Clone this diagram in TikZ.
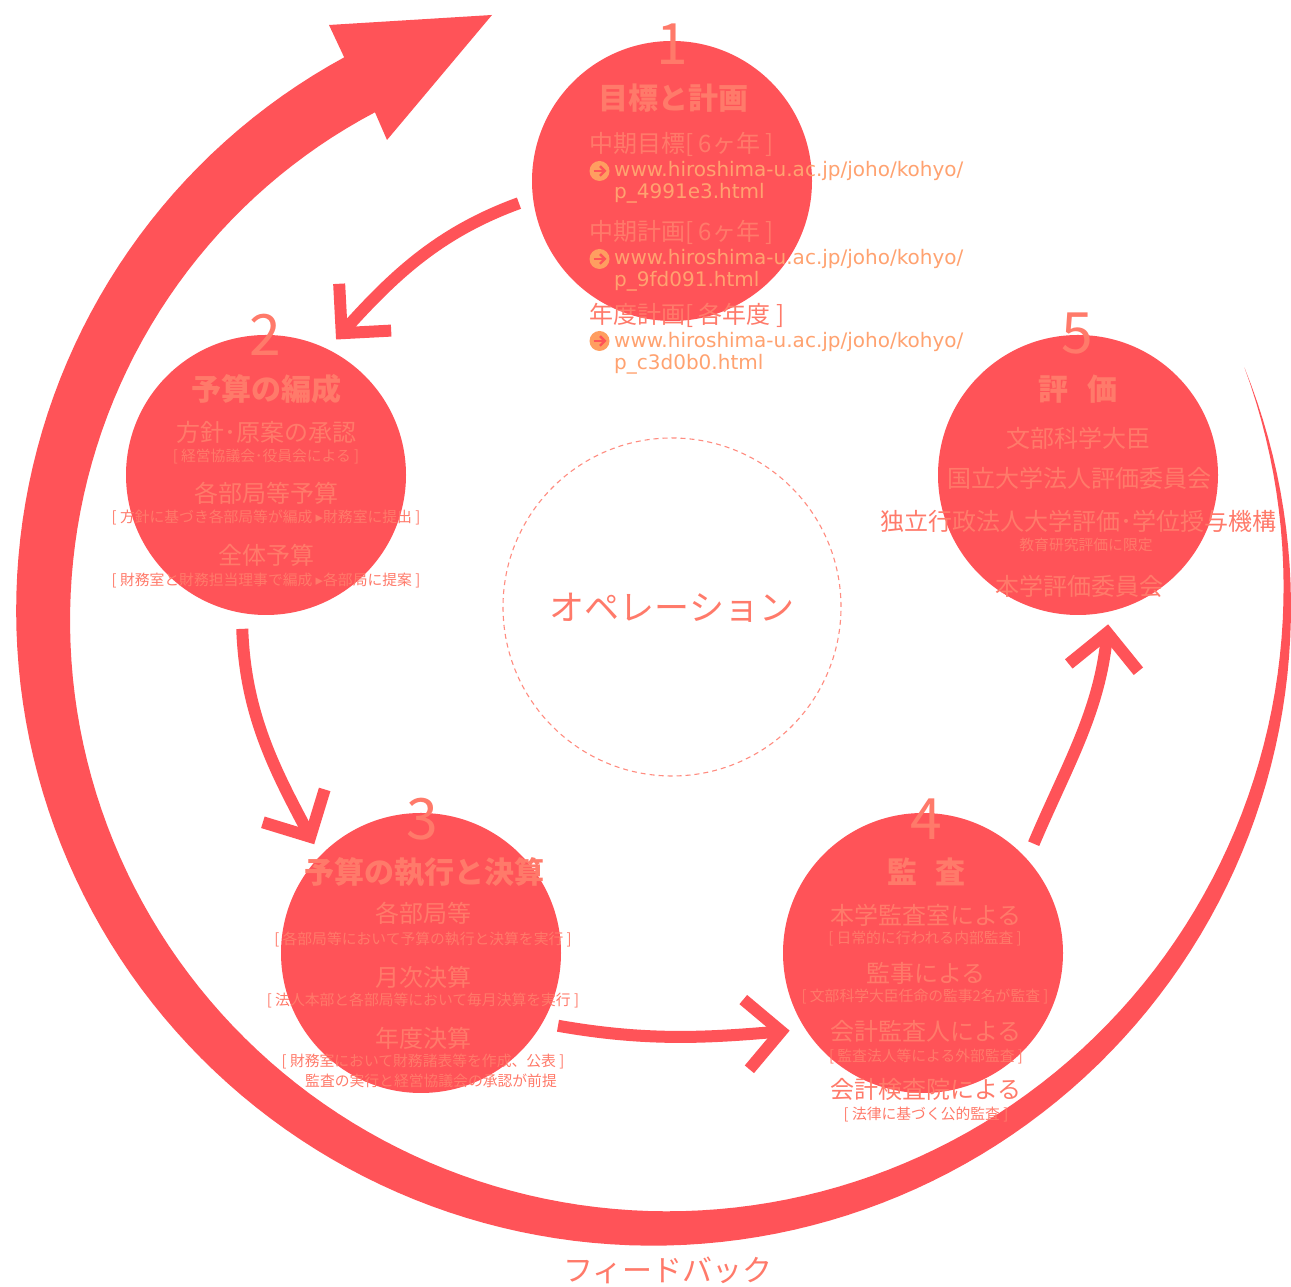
\documentclass[tikz,border=0pt]{standalone}
\usepackage{fontspec}
\setmainfont{Noto Sans CJK JP}
\newfontfamily\dvfont{DejaVu Sans}
\usetikzlibrary{arrows.meta}
\definecolor{cred}{RGB}{255,83,88}
\definecolor{salmon}{RGB}{255,122,106}
\definecolor{urlc}{RGB}{255,162,112}
\definecolor{iconc}{RGB}{255,158,96}
\definecolor{dashc}{RGB}{255,140,128}
\begin{document}
\begin{tikzpicture}[x=1pt,y=1pt,
  stage/.style={circle,fill=cred,minimum size=280pt,inner sep=0pt,outer sep=0pt},
  opcircle/.style={circle,draw=dashc,line width=1.1pt,dash pattern=on 5pt off 4pt,minimum size=338pt,inner sep=0pt,outer sep=0pt},
  num/.style={text=salmon,inner sep=0pt,font=\fontsize{57}{60}\selectfont},
  ttl/.style={text=salmon,inner sep=0pt,font=\bfseries\fontsize{30}{32}\selectfont},
  itm/.style={text=salmon,inner sep=0pt,font=\fontsize{24}{26}\selectfont},
  sml/.style={text=salmon,inner sep=0pt,font=\fontsize{14.8}{16}\selectfont},
  big/.style={text=salmon,inner sep=0pt,font=\fontsize{35}{37}\selectfont},
  fbtxt/.style={text=salmon,inner sep=0pt,font=\fontsize{30}{32}\selectfont},
  url/.style={text=urlc,inner sep=0pt,anchor=base west,font=\dvfont\fontsize{20}{22}\selectfont},
  icon/.style={circle,fill=iconc,minimum size=20pt,inner sep=0pt,
    path picture={
      \draw[cred,line width=2.4pt] ([xshift=-6pt]path picture bounding box.center) -- ([xshift=4pt]path picture bounding box.center);
      \draw[cred,line width=2.4pt,line join=miter] ([shift={(0.5pt,4.8pt)}]path picture bounding box.center) -- ([xshift=5.3pt]path picture bounding box.center) -- ([shift={(0.5pt,-4.8pt)}]path picture bounding box.center);}},
  flow/.style={draw=cred,line width=12pt,-{Straight Barb[length=35pt,width=70pt,sharp]}},
  declare function={uu(\t)=(\t+22)/262.75; ro(\t)=639-9*uu(\t)*uu(\t)*uu(\t)*uu(\t); ri(\t)=ro(\t)-63*(1.5*uu(\t)-0.5*uu(\t)*uu(\t));}
]
\useasboundingbox (0,0) rectangle (1291,1287);
\fill[white] (0,0) rectangle (1291,1287);

% feedback spiral arrow
\fill[cred] plot[domain=-22:240.75,samples=160,variable=\t] ({652+ro(\t)*cos(\t)},{680-ro(\t)*sin(\t)})
  -- (329,1262) -- (492,1272) -- (387,1147)
  -- plot[domain=240.75:-22,samples=160,variable=\t] ({652+ri(\t)*cos(\t)},{680-ri(\t)*sin(\t)}) -- cycle;

% stage circles
\node[stage] (c1) at (672,1106) {};
\node[stage] (c2) at (266,812) {};
\node[stage] (c3) at (421,334) {};
\node[stage] (c4) at (923,334) {};
\node[stage] (c5) at (1078,812) {};
\node[opcircle] (op) at (672,680) {};

% connectors
\draw[flow,shorten <=15pt,shorten >=13pt] (c1.187) to[out=200,in=48] (c2.64);
\draw[flow,shorten <=16pt,shorten >=13pt] (c2.260) to[out=272,in=118] (c3.136);
\draw[flow,shorten <=16pt,shorten >=16pt] (c3.-30) to[out=-10,in=185] (c4.213);
\draw[flow,shorten <=17pt,shorten >=13pt] (c4.42) to[out=67,in=264] (c5.-77);

% circle 1
\node[num] (n1) at (672,1243) {1};
\node[ttl] (t1) at (673,1189) {目標と計画};
\node[itm,anchor=west] (h1a) at (589,1143) {中期目標[ 6ヶ年 ]};
\node[icon] (i1) at (599.5,1116) {};
\node[url] (u1a) at (614,1110) {www.hiroshima-u.ac.jp/joho/kohyo/};
\node[url] (u1b) at (614,1088) {p\_4991e3.html};
\node[itm,anchor=west] (h1b) at (589,1055) {中期計画[ 6ヶ年 ]};
\node[icon] (i2) at (599.5,1028) {};
\node[url] (u2a) at (614,1022) {www.hiroshima-u.ac.jp/joho/kohyo/};
\node[url] (u2b) at (614,1000) {p\_9fd091.html};
\node[itm,anchor=west] (h1c) at (589,972) {年度計画[ 各年度 ]};
\node[icon] (i3) at (599.5,946) {};
\node[url] (u3a) at (614,939) {www.hiroshima-u.ac.jp/joho/kohyo/};
\node[url] (u3b) at (614,917) {p\_c3d0b0.html};

% circle 2
\node[num] (n2) at (265,952) {2};
\node[ttl] (t2) at (266,898) {予算の編成};
\node[itm] (a2a) at (266,855) {方針･原案の承認};
\node[sml] (b2a) at (266,830) {[ 経営協議会･役員会による ]};
\node[itm] (a2b) at (266,794) {各部局等予算};
\node[sml] (b2b) at (266,770) {[ 方針に基づき各部局等が編成 {\dvfont ▸}財務室に提出 ]};
\node[itm] (a2c) at (266,732) {全体予算};
\node[sml] (b2c) at (266,707) {[ 財務室と財務担当理事で編成 {\dvfont ▸}各部局に提案 ]};

% circle 3
\node[num] (n3) at (422,468) {3};
\node[ttl] (t3) at (424,415) {予算の執行と決算};
\node[itm] (a3a) at (423,374) {各部局等};
\node[sml] (b3a) at (423,348) {[ 各部局等において予算の執行と決算を実行 ]};
\node[itm] (a3b) at (423,310) {月次決算};
\node[sml] (b3b) at (423,287) {[ 法人本部と各部局等において毎月決算を実行 ]};
\node[itm] (a3c) at (423,249) {年度決算};
\node[sml] (b3c) at (423,225) {[ 財務室において財務諸表等を作成、公表 ]};
\node[sml] (b3d) at (431,206) {監査の実行と経営協議会の承認が前提};

% circle 4
\node[num] (n4) at (926,468) {4};
\node[ttl] (t4) at (926,415) {監\hspace{0.6em}査};
\node[itm] (a4a) at (926,372) {本学監査室による};
\node[sml] (b4a) at (925,348) {[ 日常的に行われる内部監査 ]};
\node[itm] (a4b) at (926,314) {監事による};
\node[sml] (b4b) at (925,290) {[ 文部科学大臣任命の監事2名が監査 ]};
\node[itm] (a4c) at (926,256) {会計監査人による};
\node[sml] (b4c) at (926,230) {[ 監査法人等による外部監査 ]};
\node[itm] (a4d) at (926,198) {会計検査院による};
\node[sml] (b4d) at (926,172) {[ 法律に基づく公的監査 ]};

% circle 5
\node[num] (n5) at (1077,953) {5};
\node[ttl] (t5) at (1078,898) {評\hspace{0.65em}価};
\node[itm] (a5a) at (1078,849) {文部科学大臣};
\node[itm] (a5b) at (1079,809) {国立大学法人評価委員会};
\node[itm] (a5c) at (1078,766) {独立行政法人大学評価･学位授与機構};
\node[sml] (b5c) at (1086,742) {教育研究評価に限定};
\node[itm] (a5d) at (1079,701) {本学評価委員会};

% centre and feedback labels
\node[big] (opl) at (672,679) {オペレーション};
\node[fbtxt] (fb) at (668,17) {フィードバック};
\end{tikzpicture}
\end{document}
